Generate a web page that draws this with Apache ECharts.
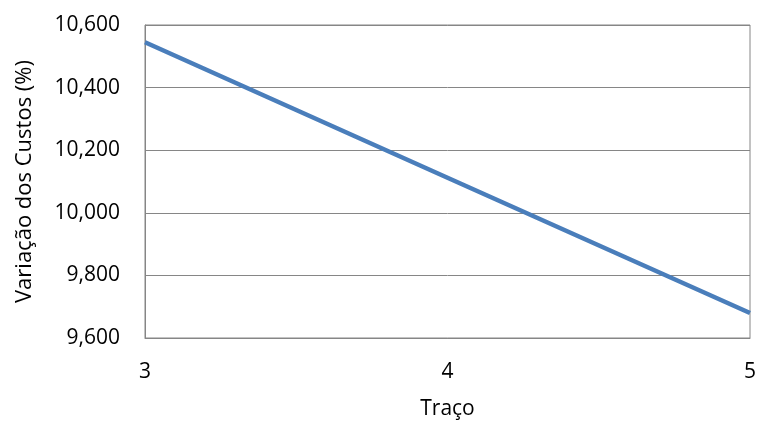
<!DOCTYPE html>
<html><head><meta charset="utf-8">
<script src="https://cdn.jsdelivr.net/npm/echarts@6/dist/echarts.min.js"></script>
<style>html,body{margin:0;padding:0;background:#fff}#c{width:757px;height:424px}</style>
</head><body><div id="c"></div>
<script>
const categories = ['3', '4', '5'];
const values = [10545, 10112, 9680];
const yTicks = [9600, 9800, 10000, 10200, 10400, 10600];
const xTitle = 'Traço';
const yTitle = 'Variação dos Custos (%)';

const font = 'Open Sans';
const fs = 21;
const chart = echarts.init(document.getElementById('c'), null, {renderer: 'canvas'});
chart.setOption({
  animation: false,
  backgroundColor: '#ffffff',
  grid: {left: 145, right: 7, top: 25, bottom: 86, outerBoundsMode: 'none', containLabel: false,
    show: true, borderColor: '#868686', borderWidth: 1, backgroundColor: 'transparent'},
  xAxis: {
    type: 'category', data: categories, boundaryGap: false,
    name: xTitle, nameLocation: 'middle', nameGap: 61,
    nameTextStyle: {fontFamily: font, fontSize: fs, color: '#000'},
    axisLine: {lineStyle: {color: '#868686'}},
    axisTick: {show: false},
    axisLabel: {fontFamily: font, fontSize: fs, color: '#000', margin: 24},
    splitLine: {show: false}
  },
  yAxis: {
    type: 'value', min: yTicks[0], max: yTicks[yTicks.length - 1], interval: 200,
    name: yTitle, nameLocation: 'middle', nameGap: 109,
    nameTextStyle: {fontFamily: font, fontSize: 22, color: '#000'},
    axisLine: {show: true, lineStyle: {color: '#868686'}},
    axisTick: {show: false},
    axisLabel: {fontFamily: font, fontSize: fs, color: '#000', margin: 25,
      formatter: v => v.toLocaleString('en-US')},
    splitLine: {show: true, lineStyle: {color: '#868686', width: 1}}
  },
  series: [{
    type: 'line', data: values, symbol: 'none',
    lineStyle: {color: '#4a7ebb', width: 4.5}
  }]
});
</script></body></html>
